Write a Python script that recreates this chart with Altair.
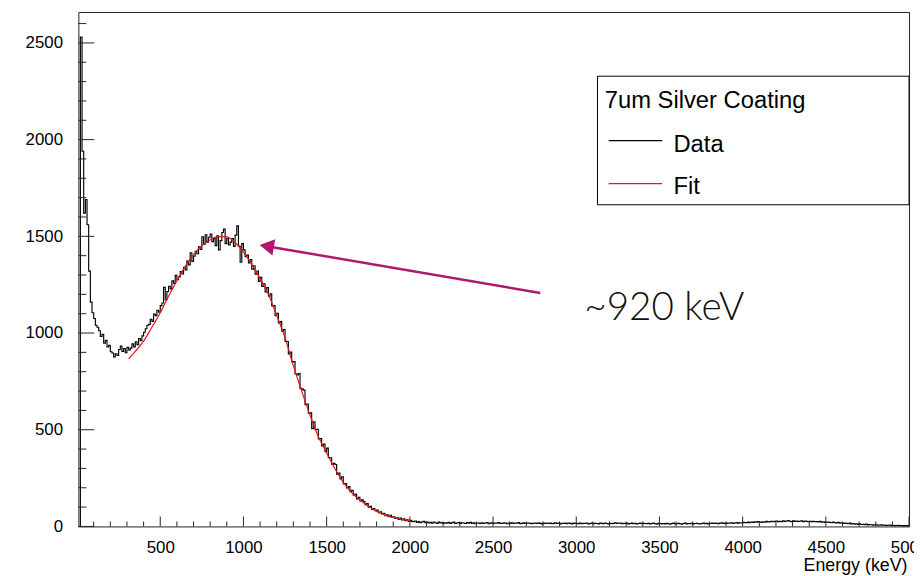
import altair as alt
import pandas as pd

# ---------------- data ----------------
BIN_WIDTH = 10          # keV
FIRST_EDGE = 20         # keV, left edge of first bin

# 20 .. 410 keV
counts_low = [
    2530, 1940, 1620, 1690, 1560, 1320, 1160, 1105, 1075, 1040,
    1030, 1012, 982, 993, 948, 962, 928, 936, 903, 897,
    876, 893, 884, 915, 932, 905, 920, 898, 926, 912,
    922, 944, 928, 955, 940, 972, 960, 985, 1004, 1022,
]
# 420 .. 1010 keV
counts_peak = [
    1040, 1045, 1071, 1060, 1098, 1090, 1118, 1108, 1142, 1155,
    1236, 1172, 1215, 1242, 1228, 1270, 1256, 1298, 1276, 1290,
    1318, 1305, 1340, 1326, 1372, 1352, 1415, 1370, 1398, 1422,
    1410, 1446, 1432, 1498, 1460, 1508, 1470, 1495, 1512, 1472,
    1488, 1452, 1502, 1430, 1478, 1520, 1537, 1462, 1490, 1455,
    1470, 1488, 1448, 1506, 1554, 1450, 1366, 1462, 1430, 1395,
]
# 1020 .. 2010 keV
counts_fall = [
    1403, 1362, 1380, 1330, 1348, 1304, 1321, 1267, 1288, 1241,
    1255, 1213, 1235, 1190, 1203, 1140, 1142, 1090, 1102, 1052,
    1059, 1009, 1018, 957, 956, 892, 902, 851, 852, 789,
    784, 790, 714, 710, 705, 630, 633, 585, 587, 505,
    541, 501, 502, 453, 454, 416, 426, 387, 405, 356,
    355, 321, 326, 320, 270, 276, 246, 257, 220, 222,
    199, 206, 180, 187, 162, 167, 142, 150, 132, 137,
    129, 112, 118, 100, 104, 88, 93, 81, 85, 71,
    76, 65, 68, 55, 60, 50, 58, 47, 50, 41,
    45, 36, 43, 34, 39, 30, 34, 26, 32, 26,
]
# 2020 .. 4990 keV
counts_tail = [
    24, 28, 21, 25, 19, 23, 26, 20, 22, 18,
    21, 17, 23, 19, 16, 22, 18, 20, 15, 19,
    17, 21, 16, 19, 22, 15, 18, 20, 16, 19,
    18, 15, 20, 17, 21, 16, 19, 14, 18, 17,
    16, 19, 15, 18, 20, 14, 17, 19, 15, 18,
    17, 20, 16, 15, 19, 17, 14, 18, 16, 19,
    15, 18, 17, 20, 14, 16, 19, 15, 17, 18,
    16, 14, 18, 17, 15, 19, 16, 13, 17, 15,
    18, 15, 17, 14, 16, 19, 15, 17, 13, 16,
    15, 17, 14, 18, 16, 13, 17, 15, 16, 14,
    17, 14, 16, 15, 18, 13, 15, 17, 14, 16,
    15, 13, 17, 16, 14, 18, 15, 13, 16, 14,
    16, 19, 15, 18, 17, 14, 16, 15, 17, 13,
    15, 17, 14, 16, 13, 15, 17, 14, 16, 15,
    14, 16, 13, 15, 17, 14, 12, 16, 15, 13,
    15, 13, 16, 14, 12, 15, 17, 13, 14, 16,
    14, 12, 15, 17, 13, 15, 14, 16, 13, 15,
    16, 14, 13, 15, 17, 14, 16, 13, 15, 17,
    15, 18, 16, 14, 17, 19, 15, 17, 16, 18,
    17, 19, 16, 18, 20, 17, 19, 18, 21, 19,
    20, 22, 19, 23, 21, 24, 22, 25, 23, 21,
    24, 22, 26, 23, 25, 27, 24, 26, 28, 25,
    27, 25, 29, 26, 28, 30, 27, 25, 29, 26,
    28, 26, 27, 29, 25, 28, 26, 24, 27, 25,
    26, 24, 25, 23, 26, 22, 24, 21, 23, 22,
    21, 19, 22, 20, 18, 21, 17, 19, 16, 18,
    16, 14, 17, 13, 15, 12, 14, 11, 13, 10,
    11, 9, 12, 8, 10, 9, 7, 9, 8, 6,
    7, 8, 6, 7, 5, 6, 7, 5, 6, 4,
    5, 6, 4, 5, 3, 4, 5, 3,
]

fit_energy = [310, 350, 400, 450, 500, 550, 600, 650, 700, 750, 800, 850,
              900, 950, 1000, 1050, 1100, 1150, 1200, 1250, 1300, 1350,
              1400, 1450, 1500, 1550, 1600, 1650, 1700, 1750, 1800, 1850,
              1900, 1950, 2000]
fit_counts = [866, 905, 958, 1030, 1105, 1190, 1270, 1345, 1405, 1452, 1482,
              1498, 1497, 1468, 1418, 1355, 1282, 1200, 1090, 975, 830, 700,
              575, 465, 380, 298, 228, 175, 136, 104, 79, 60, 46, 36, 29]

x_major = [500, 1000, 1500, 2000, 2500, 3000, 3500, 4000, 4500, 5000]
x_minor = [v for v in range(100, 5000, 100) if v % 500 != 0]
y_major = [0, 500, 1000, 1500, 2000, 2500]
y_minor = [v for v in range(100, 2700, 100) if v % 500 != 0]

legend_title = "7um Silver Coating"
legend_labels = ["Data", "Fit"]
legend_colors = ["black", "#e8141c"]

annotation_text = "~920 keV"
annotation_pos = [3048, 1065]
arrow_tail = [2784, 1207]
arrow_head = [1140, 1449]
arrow_color = "#b0176f"

# ---------------- tables ----------------
counts = counts_low + counts_peak + counts_fall + counts_tail
edges = [FIRST_EDGE + BIN_WIDTH * i for i in range(len(counts))]
hist = pd.DataFrame({
    "energy": [FIRST_EDGE] + edges + [FIRST_EDGE + BIN_WIDTH * len(counts)],
    "count": [0] + counts + [counts[-1]],
})
hist["order"] = range(len(hist))

fit_df = pd.DataFrame({"energy": fit_energy, "count": fit_counts})

W, H = 838, 519
FONT = "Liberation Sans"

xscale = alt.Scale(domain=[8, 5000], nice=False, zero=False)
yscale = alt.Scale(domain=[0, 2660], nice=False, zero=False)

X = lambda f: alt.X(f, scale=xscale)
Y = lambda f: alt.Y(f, scale=yscale)

data_line = alt.Chart(hist).mark_line(
    interpolate="step-after", color="black", strokeWidth=1.15
).encode(
    x=alt.X("energy:Q", scale=xscale, axis=alt.Axis(
        values=x_major, format="d", ticks=False, domain=False, grid=False,
        labelFont=FONT, labelFontSize=17, labelColor="black",
        labelPadding=13.5, labelFlush=False, labelOverlap=False,
        title="Energy (keV)", titleFont=FONT, titleFontSize=18,
        titleFontWeight="normal", titleColor="black",
        titleX=836, titleY=44.5, titleAlign="right",
        titleBaseline="alphabetic")),
    y=alt.Y("count:Q", scale=yscale, axis=alt.Axis(
        values=y_major, format="d", ticks=False, domain=False, grid=False,
        labelFont=FONT, labelFontSize=17, labelColor="black",
        labelPadding=16, labelFlush=False, labelOverlap=False, title="")),
    order="order:Q",
)

fit_line = alt.Chart(fit_df).mark_line(
    color=legend_colors[1], strokeWidth=1.2, interpolate="monotone"
).encode(x=X("energy:Q"), y=Y("count:Q"))

def yticks(vals, length):
    return alt.Chart(pd.DataFrame({"count": vals})).mark_rule(
        color="#222", strokeWidth=1).encode(
        y=Y("count:Q"), x=alt.value(0), x2=alt.value(length))

def xticks(vals, length):
    return alt.Chart(pd.DataFrame({"energy": vals})).mark_rule(
        color="#222", strokeWidth=1).encode(
        x=X("energy:Q"), y=alt.value(H), y2=alt.value(H - length))

ticks = [yticks(y_major, 16), yticks(y_minor, 8),
         xticks(x_major, 10), xticks(x_minor, 5)]

# legend box
leg_df = pd.DataFrame({"title": [legend_title]})
legend_box = alt.Chart(leg_df).mark_rect(
    fill="white", stroke="black", strokeWidth=1
).encode(x=alt.value(523.7), x2=alt.value(W), y=alt.value(64.8), y2=alt.value(194.5))
legend_head = alt.Chart(leg_df).mark_text(
    align="left", baseline="alphabetic", font=FONT, fontSize=24, color="black"
).encode(x=alt.value(531), y=alt.value(97.2), text="title:N")

legend_items = []
for i, (lab, col) in enumerate(zip(legend_labels, legend_colors)):
    d = pd.DataFrame({"label": [lab]})
    legend_items.append(alt.Chart(d).mark_rule(color=col, strokeWidth=1.3).encode(
        x=alt.value(535), x2=alt.value(589), y=alt.value(129.8 + 43.4 * i)))
    legend_items.append(alt.Chart(d).mark_text(
        align="left", baseline="alphabetic", font=FONT, fontSize=24, color="black"
    ).encode(x=alt.value(600.3), y=alt.value(141.2 + 42 * i), text="label:N"))

# annotation
ann_df = pd.DataFrame({"energy": [annotation_pos[0]], "count": [annotation_pos[1]],
                       "text": [annotation_text]})
ann_text = alt.Chart(ann_df).mark_text(
    align="left", baseline="alphabetic", font="Lato", fontSize=39,
    fontWeight=300, color="#111"
).encode(x=X("energy:Q"), y=Y("count:Q"), text="text:N")

arrow_df = pd.DataFrame({"energy": [arrow_tail[0]], "count": [arrow_tail[1]],
                         "energy2": [arrow_head[0]], "count2": [arrow_head[1]]})
arrow_line = alt.Chart(arrow_df).mark_rule(color=arrow_color, strokeWidth=2.5).encode(
    x=X("energy:Q"), y=Y("count:Q"), x2="energy2:Q", y2="count2:Q")
arrow_tip = alt.Chart(arrow_df).mark_point(
    shape="triangle-left", size=280, filled=True, opacity=1,
    color=arrow_color, angle=9.7
).encode(x=X("energy2:Q"), y=Y("count2:Q"))

chart = alt.layer(
    data_line, *ticks, fit_line, legend_box, legend_head, *legend_items,
    arrow_line, arrow_tip, ann_text
).properties(
    width=W, height=H,
    autosize=alt.AutoSizeParams(type="none"),
    padding={"left": 71, "top": 1.5, "right": 5, "bottom": 49},
    background="white",
).configure_view(stroke="#222", strokeWidth=1)

chart.save("out.html", embed_options={"renderer": "svg", "actions": False})
